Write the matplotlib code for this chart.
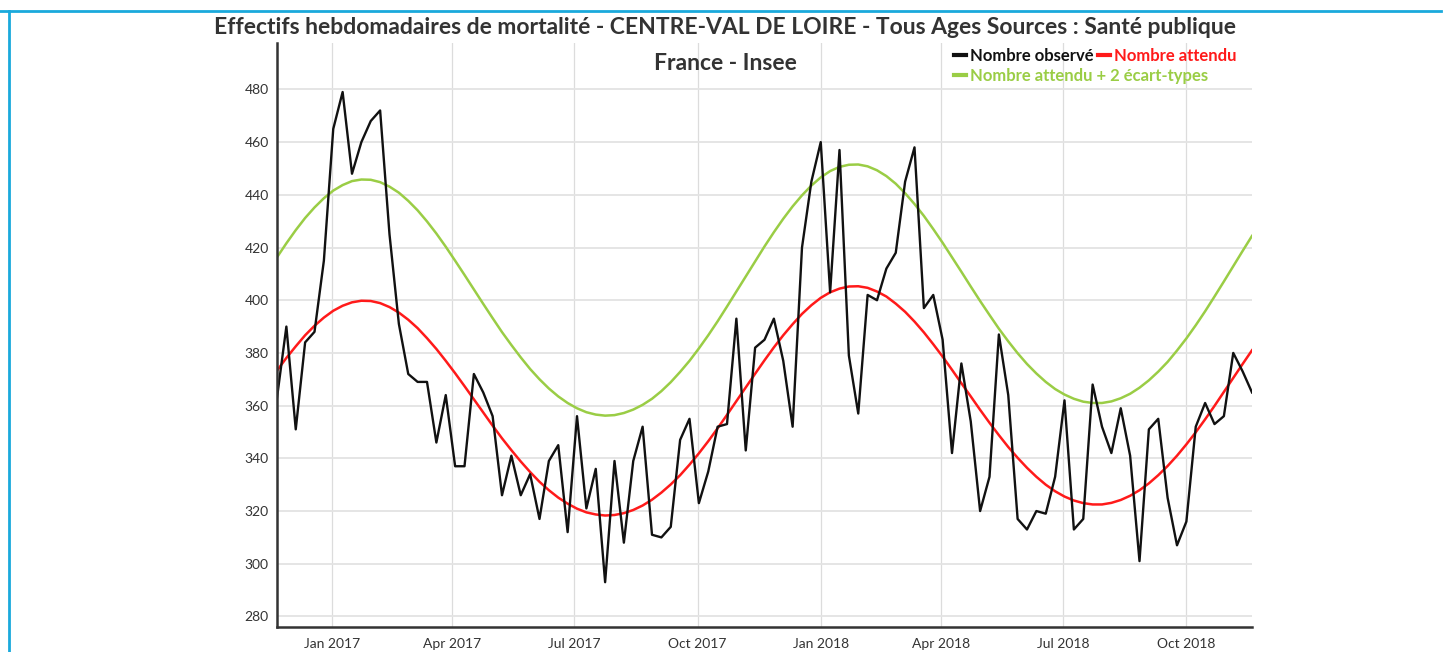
import matplotlib
matplotlib.use("Agg")
import matplotlib.pyplot as plt
import matplotlib.dates as mdates
from matplotlib.lines import Line2D
import pandas as pd

plt.rcParams['font.family'] = ['Lato', 'DejaVu Sans']

# weekly deaths, all ages - Centre-Val de Loire (first week starting 2016-11-21)
first_week = "2016-11-21"

observed = [363, 390, 351, 384, 388, 415, 465, 479, 448, 460, 468, 472, 425, 391,
            372, 369, 369, 346, 364, 337, 337, 372, 365, 356, 326, 341, 326,
            334, 317, 339, 345, 312, 356, 321, 336, 293, 339, 308, 339, 352, 311,
            310, 314, 347, 355, 323, 335, 352, 353, 393, 343, 382,
            385, 393, 377, 352, 420, 445, 460, 403, 457, 379, 357, 402, 400, 412,
            418, 445, 458, 397, 402, 385, 342, 376, 354, 320, 333, 387,
            364, 317, 313, 320, 319, 333, 362, 313, 317, 368, 352, 342, 359, 341,
            301, 351, 355, 325, 307, 316, 352, 361, 353, 356, 380, 373, 365]

expected = [373.3, 378.1, 382.5, 386.7, 390.3, 393.4, 396.0, 397.9, 399.2, 399.8,
            399.7, 398.9, 397.4, 395.3, 392.6, 389.4, 385.6, 381.5, 377.0, 372.3,
            367.4, 362.4, 357.4, 352.4, 347.6, 343.1, 338.8, 334.8, 331.1, 327.9,
            325.1, 322.8, 320.9, 319.5, 318.7, 318.3, 318.5, 319.2, 320.4, 322.1,
            324.3, 327.0, 330.1, 333.6, 337.6, 341.9, 346.5, 351.4, 356.5, 361.7,
            366.9, 372.1, 377.2, 382.1, 386.7, 390.9, 394.8, 398.1, 400.9, 403.0,
            404.4, 405.2, 405.3, 404.7, 403.3, 401.4, 398.7, 395.6, 391.9, 387.8,
            383.3, 378.6, 373.6, 368.5, 363.5, 358.4, 353.5, 348.8, 344.3, 340.2,
            336.4, 333.0, 330.0, 327.5, 325.5, 324.0, 323.0, 322.5, 322.5, 323.1,
            324.2, 325.8, 327.9, 330.5, 333.6, 337.1, 341.0, 345.3, 349.9, 354.8,
            359.9, 365.2, 370.5, 375.8, 381.0]

upper = [416.3, 421.6, 426.6, 431.2, 435.2, 438.7, 441.6, 443.7, 445.2, 445.8,
         445.7, 444.8, 443.1, 440.8, 437.7, 434.1, 429.9, 425.3, 420.3, 415.0,
         409.6, 404.1, 398.6, 393.2, 387.9, 383.0, 378.3, 373.9, 370.0, 366.5,
         363.5, 361.0, 359.0, 357.5, 356.6, 356.2, 356.4, 357.2, 358.5, 360.3,
         362.6, 365.5, 368.9, 372.8, 377.0, 381.7, 386.7, 392.0, 397.6, 403.3,
         409.0, 414.7, 420.4, 425.8, 430.9, 435.6, 439.8, 443.5, 446.6, 449.0,
         450.6, 451.4, 451.5, 450.8, 449.3, 447.1, 444.2, 440.6, 436.5, 432.0,
         427.0, 421.8, 416.3, 410.8, 405.2, 399.7, 394.4, 389.2, 384.4, 379.9,
         375.8, 372.2, 369.0, 366.3, 364.2, 362.6, 361.5, 361.0, 361.0, 361.6,
         362.8, 364.5, 366.8, 369.6, 372.9, 376.6, 380.9, 385.5, 390.5, 395.8,
         401.4, 407.1, 412.9, 418.7, 424.4]

y_ticks = [280, 300, 320, 340, 360, 380, 400, 420, 440, 460, 480]

dates = pd.date_range(first_week, periods=len(observed), freq="7D")

fig = plt.figure(figsize=(14.56, 6.52), dpi=100)
ax = fig.add_axes([277 / 1456, 1 - 627 / 652, 975 / 1456, 584 / 652])

ax.plot(dates, upper, color="#9acd45", lw=1.8)
ax.plot(dates, expected, color="#ff1a1a", lw=1.8)
ax.plot(dates, observed, color="#111111", lw=1.7)

ax.set_xlim(dates[0], dates[-1])
ax.set_ylim(276, 497.6)
ax.set_yticks(y_ticks)
ax.xaxis.set_major_locator(mdates.MonthLocator(bymonth=[1, 4, 7, 10]))
ax.xaxis.set_major_formatter(mdates.DateFormatter("%b %Y"))

ax.yaxis.grid(True, color="#e3e3e3", lw=1.3)
ax.xaxis.grid(True, color="#dcdcdc", lw=0.9)
ax.set_axisbelow(True)
for side in ["top", "right"]:
    ax.spines[side].set_visible(False)
for side in ["left", "bottom"]:
    ax.spines[side].set_color("#333333")
    ax.spines[side].set_linewidth(1.8)
ax.tick_params(length=0, labelsize=10, colors="#333333")
ax.tick_params(axis="y", pad=6)
ax.tick_params(axis="x", pad=8)

# title (two lines, over the plot)
fig.text(725 / 1456, 1 - 28 / 652,
         "Effectifs hebdomadaires de mortalité - CENTRE-VAL DE LOIRE - Tous Ages Sources : Santé publique",
         ha="center", va="center", fontsize=16.5, fontweight="bold", color="#333333")
fig.text(725 / 1456, 1 - 63 / 652, "France - Insee",
         ha="center", va="center", fontsize=16.5, fontweight="bold", color="#333333")

# legend
h_obs = Line2D([], [], color="#111111", lw=3)
h_exp = Line2D([], [], color="#ff1a1a", lw=3)
h_up = Line2D([], [], color="#9acd45", lw=3)
leg1 = fig.legend([h_obs, h_exp], ["Nombre observé", "Nombre attendu"], ncol=2,
                  loc="upper left", bbox_to_anchor=(954 / 1456, 1 - 48 / 652),
                  frameon=False, handlelength=0.7, handletextpad=0.25,
                  columnspacing=0.3, borderpad=0, borderaxespad=0,
                  prop={"size": 12, "weight": "bold"},
                  labelcolor=["#111111", "#ff1a1a"])
leg2 = fig.legend([h_up], ["Nombre attendu + 2 écart-types"],
                  loc="upper left", bbox_to_anchor=(954 / 1456, 1 - 68 / 652),
                  frameon=False, handlelength=0.7, handletextpad=0.25,
                  borderpad=0, borderaxespad=0,
                  prop={"size": 12, "weight": "bold"}, labelcolor=["#9acd45"])

# frame around the card
fig.add_artist(Line2D([9 / 1456, 9 / 1456], [0, 1 - 11 / 652], transform=fig.transFigure,
                      color="#1aa9dc", lw=2))
fig.add_artist(Line2D([0, 1441 / 1456], [1 - 11 / 652, 1 - 11 / 652], transform=fig.transFigure,
                      color="#1aa9dc", lw=2))

plt.savefig("out.png", dpi=100)
